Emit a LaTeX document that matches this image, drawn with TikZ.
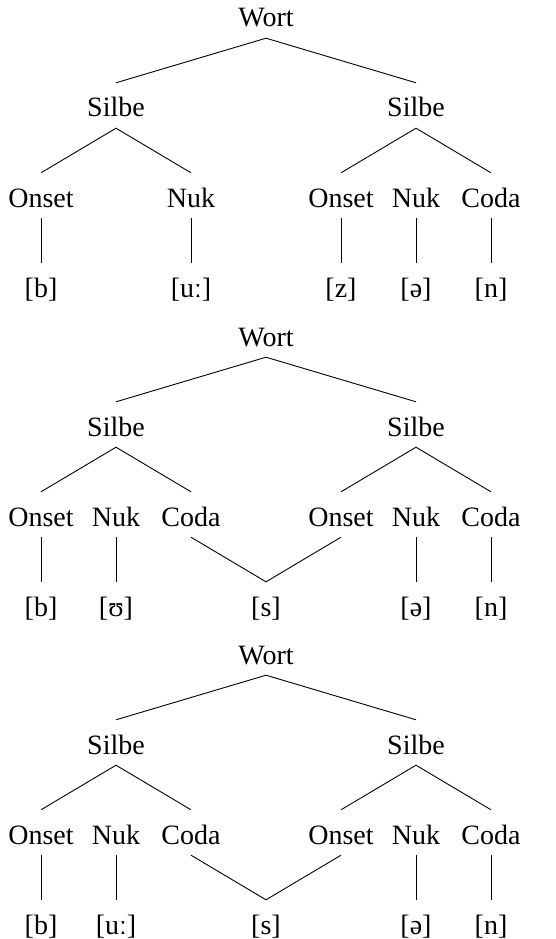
\documentclass[tikz,border=0pt]{standalone}
\usepackage{fontspec}
\setmainfont{Liberation Serif}
\begin{document}
\begin{tikzpicture}[x=1pt,y=-1pt,
  lab/.style={anchor=base,font=\fontsize{28}{31}\selectfont,text height=24pt,text depth=1pt,inner ysep=10pt,inner xsep=0pt},
  br/.style={line width=0.9pt}]
\useasboundingbox (0,0) rectangle (555,939);
% ---------- Tree 1 ----------
\begin{scope}[shift={(0,0)}]
\node[lab] (aW) at (266,27) {Wort};
\node[lab] (aSL) at (116,117) {Silbe};
\node[lab] (aSR) at (416,117) {Silbe};
\node[lab] (aO1) at (41,207) {Onset};
\node[lab] (aN1) at (191,207) {Nuk};
\node[lab] (aO2) at (341,207) {Onset};
\node[lab] (aN2) at (416,207) {Nuk};
\node[lab] (aC2) at (491,207) {Coda};
\node[lab] (aP1) at (41,297) {[b]};
\node[lab] (aP2) at (191,297) {[uː]};
\node[lab] (aP3) at (341,297) {[z]};
\node[lab] (aP4) at (416,297) {[ə]};
\node[lab] (aP5) at (491,297) {[n]};
\draw[br] (aSL.north) -- (aW.south) -- (aSR.north);
\draw[br] (aO1.north) -- (aSL.south) -- (aN1.north);
\draw[br] (aO2.north) -- (aSR.south) -- (aC2.north);
\draw[br] (aO1.south) -- (aP1.north);
\draw[br] (aN1.south) -- (aP2.north);
\draw[br] (aO2.south) -- (aP3.north);
\draw[br] (aN2.south) -- (aP4.north);
\draw[br] (aC2.south) -- (aP5.north);
\end{scope}
% ---------- Tree 2 ----------
\begin{scope}[shift={(0,319)}]
\node[lab] (bW) at (266,27) {Wort};
\node[lab] (bSL) at (116,117) {Silbe};
\node[lab] (bSR) at (416,117) {Silbe};
\node[lab] (bO1) at (41,207) {Onset};
\node[lab] (bN1) at (116,207) {Nuk};
\node[lab] (bC1) at (191,207) {Coda};
\node[lab] (bO2) at (341,207) {Onset};
\node[lab] (bN2) at (416,207) {Nuk};
\node[lab] (bC2) at (491,207) {Coda};
\node[lab] (bP1) at (41,297) {[b]};
\node[lab] (bP2) at (116,297) {[ʊ]};
\node[lab] (bP3) at (266,297) {[s]};
\node[lab] (bP4) at (416,297) {[ə]};
\node[lab] (bP5) at (491,297) {[n]};
\draw[br] (bSL.north) -- (bW.south) -- (bSR.north);
\draw[br] (bO1.north) -- (bSL.south) -- (bC1.north);
\draw[br] (bO2.north) -- (bSR.south) -- (bC2.north);
\draw[br] (bO1.south) -- (bP1.north);
\draw[br] (bN1.south) -- (bP2.north);
\draw[br] (bC1.south) -- (bP3.north) -- (bO2.south);
\draw[br] (bN2.south) -- (bP4.north);
\draw[br] (bC2.south) -- (bP5.north);
\end{scope}
% ---------- Tree 3 ----------
\begin{scope}[shift={(0,637)}]
\node[lab] (cW) at (266,27) {Wort};
\node[lab] (cSL) at (116,117) {Silbe};
\node[lab] (cSR) at (416,117) {Silbe};
\node[lab] (cO1) at (41,207) {Onset};
\node[lab] (cN1) at (116,207) {Nuk};
\node[lab] (cC1) at (191,207) {Coda};
\node[lab] (cO2) at (341,207) {Onset};
\node[lab] (cN2) at (416,207) {Nuk};
\node[lab] (cC2) at (491,207) {Coda};
\node[lab] (cP1) at (41,297) {[b]};
\node[lab] (cP2) at (116,297) {[uː]};
\node[lab] (cP3) at (266,297) {[s]};
\node[lab] (cP4) at (416,297) {[ə]};
\node[lab] (cP5) at (491,297) {[n]};
\draw[br] (cSL.north) -- (cW.south) -- (cSR.north);
\draw[br] (cO1.north) -- (cSL.south) -- (cC1.north);
\draw[br] (cO2.north) -- (cSR.south) -- (cC2.north);
\draw[br] (cO1.south) -- (cP1.north);
\draw[br] (cN1.south) -- (cP2.north);
\draw[br] (cC1.south) -- (cP3.north) -- (cO2.south);
\draw[br] (cN2.south) -- (cP4.north);
\draw[br] (cC2.south) -- (cP5.north);
\end{scope}
\end{tikzpicture}
\end{document}
